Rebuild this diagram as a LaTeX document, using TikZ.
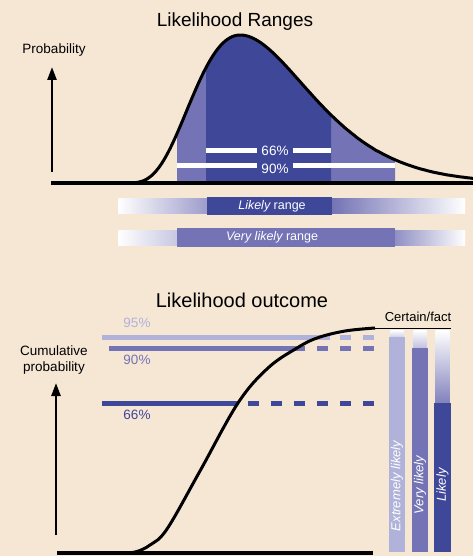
\documentclass[tikz,border=0pt]{standalone}
\usepackage{fontspec}
\setmainfont{Liberation Sans}
\usepackage{xcolor}
\usepackage{tikz}
\usetikzlibrary{arrows.meta, calc}
\definecolor{paper}{RGB}{246, 231, 213}
\definecolor{likelyblue}{RGB}{63, 71, 153}
\definecolor{verylikelyblue}{RGB}{116, 115, 181}
\definecolor{extremelyblue}{RGB}{177, 178, 218}

\begin{document}
\begin{tikzpicture}[x=1pt, y=-1pt,
    declare function={
        gl(\t) = (\t/120)^5*exp(5-\t/24);
        gr(\t) = (\t/120)^4*exp(4-\t/30);
        pdf(\x) = (\x<240) ? 183-148*gl(\x-120) : 183-148*gr(\x-120);
    },
    curveline/.style={line width=3pt, black},
    axisline/.style={line width=3.5pt, black},
    uparrow/.style={line width=2.5pt, -{Triangle[width=9pt, length=13pt]}},
    titletext/.style={font=\fontsize{19}{22}\selectfont},
    labeltext/.style={font=\fontsize{13.5}{16}\selectfont, align=center},
    pctext/.style={font=\fontsize{13.5}{15}\selectfont},
    bartext/.style={font=\fontsize{12.5}{14}\selectfont, text=white},
    vtext/.style={rotate=90, font=\fontsize{13}{15}\selectfont\itshape, text=white},
    whitebar/.style={line width=5pt, white},
    levelbar/.style={line width=5pt},
    leveldash/.style={line width=5pt, dash pattern=on 11pt off 12pt}]

    \fill[paper] (0,0) rectangle (473,556);
    \useasboundingbox (0,0) rectangle (473,556);

    % Likelihood ranges (density)
    \begin{scope}
        \node[titletext] (rangestitle) at (235,22) {Likelihood Ranges};
        \node[labeltext] (problabel) at (54,50) {Probability};
        \coordinate (pfoot) at (52,172);
        \coordinate (ptip) at (52,67);
        \draw[uparrow] (pfoot) -- (ptip);

        \fill[verylikelyblue] plot[domain=177:395, samples=80] (\x, {pdf(\x)}) -- (395,183) -- (177,183) -- cycle;
        \fill[likelyblue] plot[domain=206:331, samples=60] (\x, {pdf(\x)}) -- (331,183) -- (206,183) -- cycle;

        \node[pctext, text=white, inner sep=4pt] (n66) at (275,151) {66\%};
        \node[pctext, text=white, inner sep=4pt] (n90) at (275,169) {90\%};
        \coordinate (b66l) at (206,151);
        \coordinate (b66r) at (331,151);
        \coordinate (b90l) at (177,165.5);
        \coordinate (b90r) at (395,165.5);
        \draw[whitebar] (b66l) -- (b66l -| n66.west);
        \draw[whitebar] (b66r -| n66.east) -- (b66r);
        \draw[whitebar] (b90l) -- (b90l -| n90.west);
        \draw[whitebar] (b90r -| n90.east) -- (b90r);

        \draw[axisline] (51,183) -- (473,183);
        \draw[curveline] plot[domain=121:473, samples=150] (\x, {pdf(\x)});

        % range bars
        \shade[left color=white, right color=verylikelyblue!70!white] (118,198) rectangle (207,213);
        \shade[left color=verylikelyblue, right color=white] (332,198) rectangle (465,213);
        \fill[likelyblue] (207,197) rectangle (332,215);
        \node[bartext] (likelytext) at (272,206) {\itshape Likely\upshape\ range};

        \shade[left color=white, right color=verylikelyblue!40!white] (118,230) rectangle (177,245);
        \shade[left color=verylikelyblue!80!white, right color=white] (395,230) rectangle (465,245);
        \fill[verylikelyblue] (177,228) rectangle (395,247);
        \node[bartext] (verylikelytext) at (272,237) {\itshape Very likely\upshape\ range};
    \end{scope}

    % Likelihood outcome (cumulative)
    \begin{scope}
        \node[titletext, font=\fontsize{20}{24}\selectfont] (outcometitle) at (242,300) {Likelihood outcome};
        \node[labeltext] (cumlabel) at (54,360) {Cumulative\\probability};
        \coordinate (cfoot) at (56,535);
        \coordinate (ctip) at (56,383);
        \draw[uparrow] (cfoot) -- (ctip);

        \draw[levelbar, extremelyblue] (102,337) -- (330,337);
        \draw[leveldash, extremelyblue] (340,337) -- (375,337);
        \draw[levelbar, verylikelyblue] (109,348) -- (305,348);
        \draw[leveldash, verylikelyblue] (317,348) -- (375,348);
        \draw[levelbar, likelyblue] (102,403) -- (238,403);
        \draw[leveldash, likelyblue] (248,403) -- (375,403);

        \node[pctext, text=extremelyblue] (p95) at (137,323) {95\%};
        \node[pctext, text=verylikelyblue] (p90) at (137,360) {90\%};
        \node[pctext, text=likelyblue] (p66) at (137,415) {66\%};

        \draw[axisline] (57,553) -- (373,553);
        \draw[curveline] plot[smooth, tension=0.6] coordinates {(118,553) (135,552) (150,545) (167,529) (200,471) (238,403) (268,368) (297,348) (317,338) (345,331) (375,328)};

        \node[labeltext, font=\fontsize{13}{15}\selectfont] (certain) at (418,317) {Certain/fact};
        \draw[line width=1pt] (375,328) -- (451,328);

        % likelihood columns
        \shade[top color=white, bottom color=extremelyblue!60!white] (390.5,330) rectangle (403.5,337);
        \fill[extremelyblue] (389,337) rectangle (405,552);
        \node[vtext] (extremelylikely) at (397,486) {Extremely likely};

        \shade[top color=white, bottom color=verylikelyblue!45!white] (413.5,330) rectangle (426.5,348);
        \fill[verylikelyblue] (412,348) rectangle (428,552);
        \node[vtext] (verylikely) at (420,485) {Very likely};

        \shade[top color=white, bottom color=verylikelyblue!90!white] (435.5,330) rectangle (449.5,403);
        \fill[likelyblue] (434,403) rectangle (451,552);
        \node[vtext] (likely) at (442.5,485) {Likely};
    \end{scope}
\end{tikzpicture}
\end{document}
